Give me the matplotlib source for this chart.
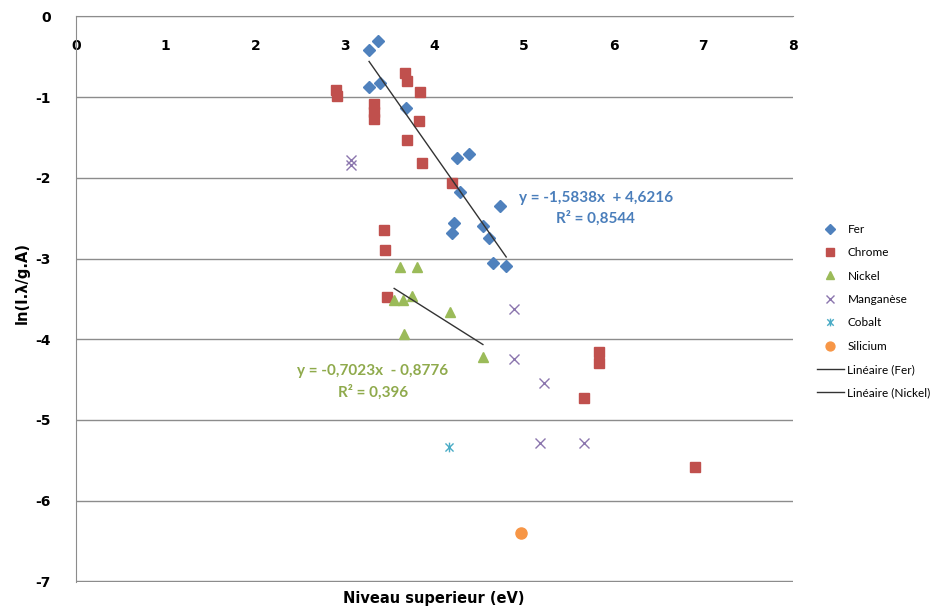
import numpy as np
import matplotlib.pyplot as plt
from matplotlib.path import Path

plt.rcParams["axes.unicode_minus"] = False

# energie du niveau superieur (eV) et ln(I.lambda/g.A) pour chaque element
fer_x = [3.27, 3.37, 3.27, 3.39, 3.68, 4.25, 4.39, 4.29, 4.73, 4.22, 4.20, 4.54, 4.61, 4.65, 4.80]
fer_y = [-0.41, -0.30, -0.88, -0.82, -1.14, -1.76, -1.71, -2.18, -2.35, -2.56, -2.68, -2.60, -2.74, -3.05, -3.09]

chrome_x = [2.90, 2.91, 3.33, 3.33, 3.33, 3.67, 3.69, 3.84, 3.83, 3.69, 3.86, 4.20, 3.44, 3.45, 3.47, 5.83, 5.84, 5.67, 6.91]
chrome_y = [-0.91, -0.99, -1.08, -1.18, -1.27, -0.70, -0.80, -0.93, -1.30, -1.53, -1.81, -2.07, -2.65, -2.89, -3.48, -4.16, -4.29, -4.73, -5.59]

nickel_x = [3.62, 3.81, 3.55, 3.65, 3.75, 4.17, 3.66, 4.54]
nickel_y = [-3.11, -3.10, -3.52, -3.52, -3.47, -3.66, -3.93, -4.22]

mn_x = [3.07, 3.07, 4.89, 4.89, 5.22, 5.18, 5.67]
mn_y = [-1.78, -1.84, -3.62, -4.25, -4.54, -5.29, -5.29]

co_x = [4.16]
co_y = [-5.34]

si_x = [4.96]
si_y = [-6.40]

# regressions lineaires (Excel)
fer_a, fer_b, fer_r2 = -1.5838, 4.6216, 0.8544
ni_a, ni_b, ni_r2 = -0.7023, -0.8776, 0.396

grid_col = "#8c8c8c"

# marqueur etoile facon Excel : une croix + un trait vertical
star = Path([(-1, -1), (1, 1), (-1, 1), (1, -1), (0, -1.2), (0, 1.2)],
            [Path.MOVETO, Path.LINETO, Path.MOVETO, Path.LINETO, Path.MOVETO, Path.LINETO])

fig = plt.figure(figsize=(9.36, 6.12), dpi=100)
ax = fig.add_axes([76/936, 1 - 582/612, 717/936, (582 - 16.5)/612])

ax.plot(fer_x, fer_y, "D", color="#4F81BD", ms=6, ls="none", label="Fer")
ax.plot(chrome_x, chrome_y, "s", color="#C0504D", ms=7.5, ls="none", label="Chrome")
ax.plot(nickel_x, nickel_y, "^", color="#9BBB59", ms=7.5, ls="none", label="Nickel")
ax.plot(mn_x, mn_y, "x", color="#8B76AE", ms=7, mew=1.0, ls="none", label="Manganèse")
ax.plot(co_x, co_y, marker=star, color="#4BACC6", ms=7, mew=1.0, ls="none", label="Cobalt")
ax.plot(si_x, si_y, "o", color="#F79646", ms=8, ls="none", label="Silicium")

xs = np.array([min(fer_x), max(fer_x)])
ax.plot(xs, fer_a*xs + fer_b, color="#333333", lw=1, label="Linéaire (Fer)")
xs = np.array([min(nickel_x), max(nickel_x)])
ax.plot(xs, ni_a*xs + ni_b, color="#333333", lw=1, label="Linéaire (Nickel)")

lab_font = dict(fontfamily="Lato", fontweight="bold", fontsize=11, ha="center", va="center", linespacing=1.5)
ax.text(5.80, -2.38, "y = %sx  + %s\nR² = %s" % (str(fer_a).replace(".", ","), str(fer_b).replace(".", ","),
        str(fer_r2).replace(".", ",")), color="#4A7EBB", **lab_font)
ax.text(3.31, -4.53, "y = %sx  - %s\nR² = %s" % (str(ni_a).replace(".", ","), str(-ni_b).replace(".", ","),
        str(ni_r2).replace(".", ",")), color="#8FAA4C", **lab_font)

ax.set_xlim(0, 8)
ax.set_ylim(-7.01, 0)
ax.set_xticks(range(0, 9))
ax.set_yticks(range(-7, 1))
ax.spines["bottom"].set_position(("data", 0))
ax.spines["top"].set_visible(False)
ax.spines["right"].set_visible(False)
for s in ("bottom", "left"):
    ax.spines[s].set_color(grid_col)
ax.tick_params(length=0, labelsize=10)
ax.tick_params(axis="x", pad=16)
ax.tick_params(axis="y", pad=18)
for t in ax.get_xticklabels() + ax.get_yticklabels():
    t.set_fontweight("bold")
ax.yaxis.grid(True, color=grid_col, lw=1)
ax.set_axisbelow(True)

fig.text(434/936, 1 - 598/612, "Niveau superieur (eV)", ha="center", va="center", fontsize=10.5, fontweight="bold")
fig.text(22/936, 1 - 283/612, "ln(I.λ/g.A)", ha="center", va="center", rotation=90, fontsize=10.5, fontweight="bold")

ax.legend(loc="upper left", bbox_to_anchor=(812/936, 1 - 219/612), bbox_transform=fig.transFigure,
          frameon=False, prop={"family": "Lato", "size": 8.5}, handlelength=2.3, handletextpad=0.3,
          labelspacing=1.05, borderaxespad=0, numpoints=1, markerscale=0.8)

fig.savefig("out.png", dpi=100)
